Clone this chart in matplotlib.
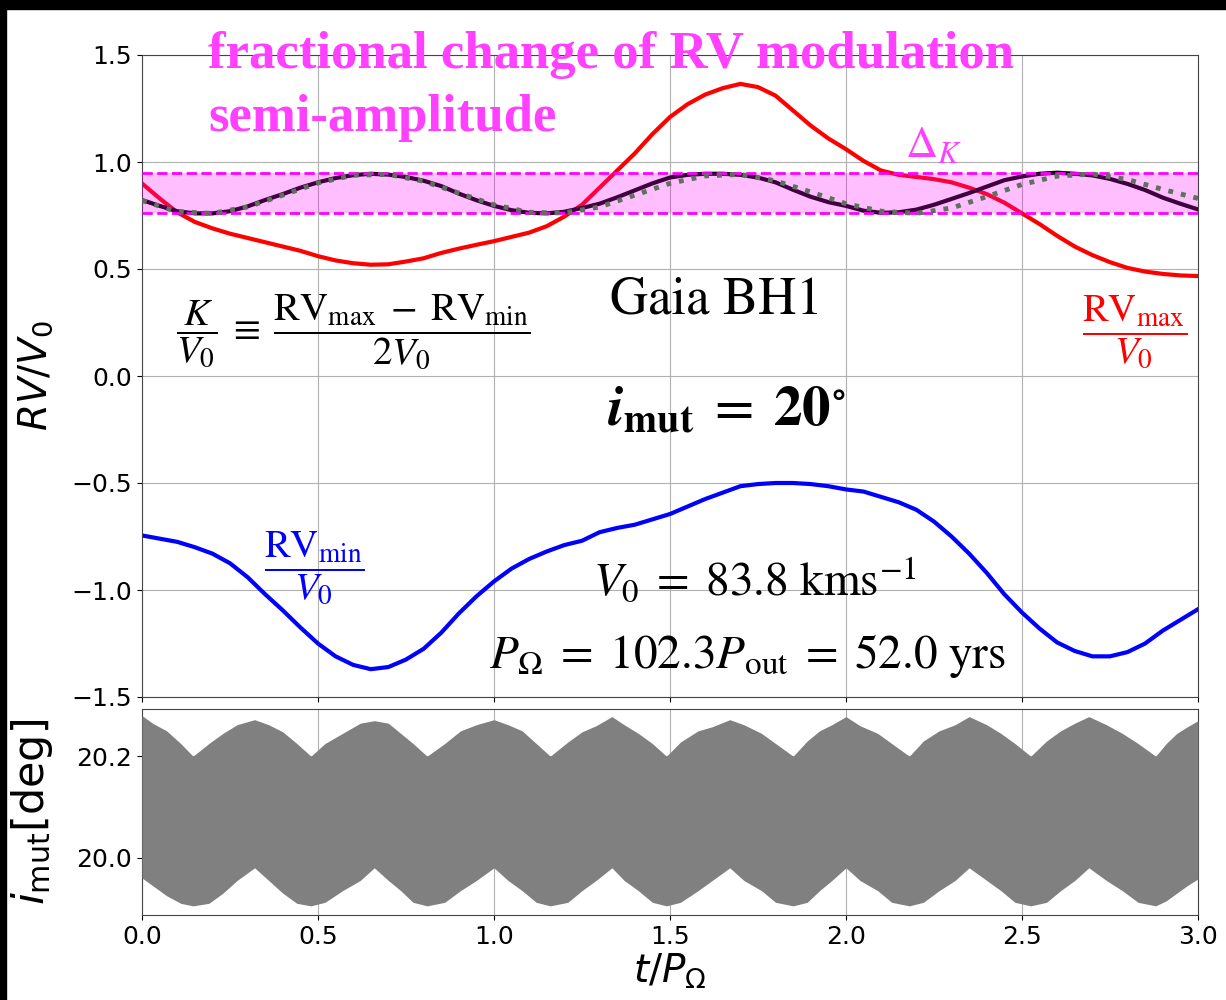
import numpy as np
import matplotlib
matplotlib.use('Agg')
import matplotlib.pyplot as plt
from matplotlib.patches import Rectangle

# RV extrema over one precession cycle, in units of V0
rv_t = [0.0, 0.05, 0.1, 0.15, 0.2, 0.25, 0.3, 0.35, 0.4, 0.45, 0.5, 0.55, 0.6, 0.65,
        0.7, 0.75, 0.8, 0.85, 0.9, 0.95, 1.0, 1.05, 1.1, 1.15, 1.2, 1.25, 1.3, 1.35,
        1.4, 1.45, 1.5, 1.55, 1.6, 1.65, 1.7, 1.75, 1.8, 1.85, 1.9, 1.95, 2.0, 2.05,
        2.1, 2.15, 2.2, 2.25, 2.3, 2.35, 2.4, 2.45, 2.5, 2.55, 2.6, 2.65, 2.7, 2.75,
        2.8, 2.85, 2.9, 2.95, 3.0]
rv_max = [0.90, 0.83, 0.765, 0.72, 0.69, 0.665, 0.645, 0.625, 0.605, 0.585, 0.56, 0.54,
          0.527, 0.52, 0.522, 0.535, 0.55, 0.575, 0.595, 0.613, 0.63, 0.65, 0.67, 0.70,
          0.745, 0.80, 0.88, 0.96, 1.04, 1.13, 1.21, 1.27, 1.315, 1.345, 1.365, 1.35,
          1.31, 1.24, 1.17, 1.11, 1.06, 1.005, 0.96, 0.94, 0.93, 0.92, 0.905, 0.88,
          0.85, 0.81, 0.76, 0.71, 0.655, 0.605, 0.565, 0.532, 0.505, 0.488, 0.477,
          0.47, 0.467]
rv_min = [-0.745, -0.76, -0.775, -0.80, -0.83, -0.875, -0.94, -1.02, -1.095, -1.175,
          -1.25, -1.31, -1.35, -1.37, -1.36, -1.325, -1.275, -1.20, -1.11, -1.03, -0.96,
          -0.90, -0.855, -0.82, -0.79, -0.77, -0.73, -0.71, -0.695, -0.67, -0.645, -0.61,
          -0.575, -0.545, -0.515, -0.505, -0.50, -0.50, -0.505, -0.515, -0.53, -0.54,
          -0.565, -0.59, -0.625, -0.68, -0.75, -0.83, -0.92, -1.02, -1.105, -1.18, -1.245,
          -1.285, -1.31, -1.31, -1.29, -1.25, -1.19, -1.14, -1.09]

# analytic semi-amplitude model (dotted)
model_t = [0.0, 0.1, 0.2, 0.3, 0.4, 0.5, 0.6, 0.7, 0.8, 0.9, 1.0, 1.1, 1.2, 1.3, 1.4,
           1.5, 1.6, 1.7, 1.8, 1.9, 2.0, 2.1, 2.2, 2.3, 2.4, 2.5, 2.6, 2.7, 2.8, 2.9, 3.0]
model_k = [0.82, 0.768, 0.760, 0.790, 0.845, 0.902, 0.938, 0.942, 0.91, 0.855, 0.80,
           0.765, 0.762, 0.79, 0.845, 0.90, 0.935, 0.942, 0.912, 0.86, 0.805, 0.77,
           0.76, 0.785, 0.838, 0.895, 0.934, 0.944, 0.918, 0.872, 0.83]

# envelope of the mutual inclination oscillation
imut_t = [0.0, 0.03, 0.07, 0.11, 0.145, 0.19, 0.23, 0.27, 0.32, 0.36, 0.40, 0.44, 0.48,
          0.52, 0.57, 0.62, 0.66, 0.70, 0.735, 0.77, 0.81, 0.86, 0.905, 0.95, 1.0, 1.04,
          1.08, 1.12, 1.16, 1.21, 1.25, 1.29, 1.335, 1.37, 1.41, 1.45, 1.49, 1.53, 1.58,
          1.62, 1.67, 1.71, 1.76, 1.80, 1.85, 1.89, 1.925, 1.96, 2.0, 2.04, 2.09, 2.13,
          2.18, 2.22, 2.265, 2.31, 2.35, 2.40, 2.44, 2.48, 2.525, 2.57, 2.61, 2.65, 2.69,
          2.74, 2.785, 2.83, 2.88, 2.91, 2.94, 2.97, 3.0]
imut_hi = [20.28, 20.265, 20.25, 20.225, 20.20, 20.225, 20.245, 20.262, 20.272, 20.262,
           20.248, 20.225, 20.20, 20.225, 20.245, 20.265, 20.27, 20.265, 20.245, 20.225,
           20.20, 20.225, 20.25, 20.262, 20.272, 20.262, 20.25, 20.225, 20.20, 20.228,
           20.248, 20.26, 20.278, 20.262, 20.245, 20.225, 20.20, 20.228, 20.25, 20.258,
           20.272, 20.262, 20.245, 20.225, 20.20, 20.23, 20.25, 20.262, 20.278, 20.26,
           20.245, 20.225, 20.20, 20.23, 20.25, 20.262, 20.278, 20.262, 20.245, 20.225,
           20.20, 20.23, 20.25, 20.265, 20.278, 20.262, 20.245, 20.225, 20.20, 20.225,
           20.245, 20.258, 20.27]
imut_lo = [19.96, 19.945, 19.925, 19.91, 19.905, 19.91, 19.93, 19.955, 19.98, 19.955,
           19.93, 19.91, 19.905, 19.912, 19.935, 19.955, 19.98, 19.955, 19.935, 19.912,
           19.905, 19.912, 19.935, 19.955, 19.98, 19.955, 19.935, 19.912, 19.905, 19.912,
           19.935, 19.955, 19.98, 19.955, 19.935, 19.912, 19.905, 19.912, 19.935, 19.955,
           19.98, 19.955, 19.935, 19.912, 19.905, 19.912, 19.935, 19.955, 19.98, 19.955,
           19.935, 19.912, 19.905, 19.912, 19.935, 19.955, 19.98, 19.955, 19.935, 19.912,
           19.905, 19.912, 19.935, 19.955, 19.98, 19.955, 19.935, 19.912, 19.905, 19.915,
           19.93, 19.945, 19.958]

rv_t = np.array(rv_t)
rv_max = np.array(rv_max)
rv_min = np.array(rv_min)
k_amp = (rv_max - rv_min) / 2
k_hi, k_lo = k_amp.max(), k_amp.min()

fig = plt.figure(figsize=(12.26, 10), dpi=100)
ax = fig.add_axes([0.1158, 0.303, 0.8613, 0.642])
ax2 = fig.add_axes([0.1158, 0.085, 0.8613, 0.206], sharex=ax)

ax.plot(rv_t, rv_max, color='red', lw=3, zorder=2)
ax.plot(rv_t, rv_min, color='blue', lw=3, zorder=2)
ax.plot(rv_t, k_amp, color='black', lw=3, zorder=2)
ax.fill_between([0, 3], k_lo, k_hi, color='magenta', alpha=0.25, lw=0, zorder=3)
ax.axhline(k_hi, color='magenta', ls='--', lw=2, zorder=4)
ax.axhline(k_lo, color='magenta', ls='--', lw=2, zorder=4)
ax.plot(model_t, model_k, color='#5f705f', ls=':', lw=3.5, zorder=5)

ax.set_xlim(0, 3)
ax.set_ylim(-1.5, 1.5)
ax.set_yticks([-1.5, -1.0, -0.5, 0.0, 0.5, 1.0, 1.5])
ax.grid(True, color='#b0b0b0')
ax.tick_params(labelsize=18, labelbottom=False)
ax.set_ylabel(r'$RV/V_0$', fontsize=28)
ax.yaxis.set_label_coords(-0.082, 0.5)

ax2.fill_between(imut_t, imut_lo, imut_hi, color='gray', lw=0, zorder=3)
ax2.set_ylim(19.887, 20.293)
ax2.set_yticks([20.0, 20.2])
ax2.grid(True, color='#b0b0b0')
ax2.tick_params(labelsize=18)
ax2.set_xticks([0.0, 0.5, 1.0, 1.5, 2.0, 2.5, 3.0])
ax2.set_xlabel(r'$t/P_{\Omega}$', fontsize=28, labelpad=2)
ax2.set_ylabel(r'$i_{\rm mut}$[deg]', fontsize=31)
ax2.yaxis.set_label_coords(-0.082, 0.5)

for a in (ax, ax2):
    for s in a.spines.values():
        s.set_color('#444444')

# annotations
mf = 'stix'
fig.text(0.170, 0.945, 'fractional change of RV modulation', color='#ff40ff',
         fontsize=38, fontweight='bold', family='Liberation Serif', va='center')
fig.text(0.170, 0.882, 'semi-amplitude', color='#ff40ff',
         fontsize=38, fontweight='bold', family='Liberation Serif', va='center')
ax.text(2.25, 1.08, r'$\Delta_K$', color='#ff40ff', fontsize=32, math_fontfamily=mf,
        ha='center', va='center')
ax.text(0.60, 0.21,
        r'$\dfrac{K}{V_0}\;\equiv\;\dfrac{\mathrm{RV_{max}}\;-\;\mathrm{RV_{min}}}{2V_0}$',
        fontsize=28, math_fontfamily=mf, ha='center', va='center')
ax.text(1.633, 0.35, 'Gaia BH1', fontsize=38, family='STIXGeneral', ha='center', va='center')
ax.text(1.66, -0.155, r'$\mathbfit{i}_{\mathbf{mut}}\;=\;\mathbf{20}^{\circ}$', fontsize=41,
        math_fontfamily=mf, ha='center', va='center')
ax.text(2.82, 0.21, r'$\dfrac{\mathrm{RV_{max}}}{V_0}$', color='red', fontsize=28,
        math_fontfamily=mf, ha='center', va='center')
ax.text(0.49, -0.897, r'$\dfrac{\mathrm{RV_{min}}}{V_0}$', color='blue', fontsize=28,
        math_fontfamily=mf, ha='center', va='center')
ax.text(1.74, -0.958, r'$V_0\;=\;83.8\ \mathrm{kms}^{-1}$', fontsize=34,
        math_fontfamily=mf, ha='center', va='center')
ax.text(1.72, -1.31, r'$P_{\Omega}\;=\;102.3P_{\mathrm{out}}\;=\;52.0\ \mathrm{yrs}$',
        fontsize=34, math_fontfamily=mf, ha='center', va='center')

# dark frame edges
fig.patches.append(Rectangle((0, 0.991), 1, 0.009, transform=fig.transFigure,
                             color='black', zorder=10))
fig.patches.append(Rectangle((0, 0), 0.005, 1, transform=fig.transFigure,
                             color='black', zorder=10))

fig.savefig('out.png', dpi=100)
